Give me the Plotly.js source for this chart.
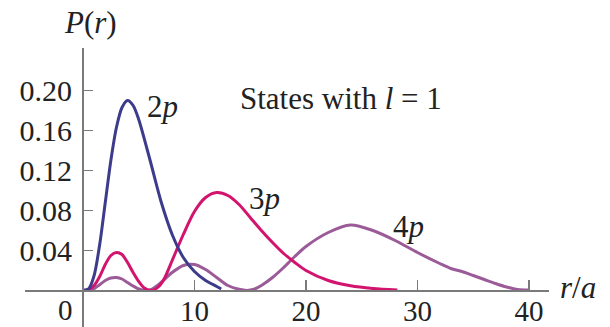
<!DOCTYPE html>
<html>
<head>
<meta charset="utf-8">
<script src="https://cdn.plot.ly/plotly-3.0.1.min.js"></script>
<style>
  html, body { margin: 0; padding: 0; background: #fff; }
  #chart { width: 610px; height: 327px; }
</style>
</head>
<body>
<div id="chart"></div>
<script>
// Radial probability distributions P(r) for the hydrogen states with l = 1
const r2p = [0, 0.5, 1, 1.5, 2, 2.5, 3, 3.5, 4, 4.5, 5, 6, 7, 8, 9, 10, 11, 12, 12.4];
const p2p = [0, 0.0015, 0.015, 0.046, 0.088, 0.130, 0.163, 0.183, 0.190, 0.185, 0.171, 0.131, 0.089, 0.056, 0.033, 0.019, 0.010, 0.004, 0.0015];

const r3p = [0, 0.5, 1, 1.5, 2, 2.5, 3, 3.5, 4, 4.5, 5, 5.5, 6.2, 6.8, 7.3, 8, 9, 10, 11, 12, 13, 14, 15, 16, 17, 18, 19, 20, 22, 24, 26, 28.2];
const p3p = [0, 0.0008, 0.005, 0.014, 0.026, 0.035, 0.038, 0.036, 0.028, 0.018, 0.009, 0.0025, 0, 0.004, 0.012, 0.030, 0.056, 0.079, 0.093, 0.098, 0.095, 0.086, 0.073, 0.060, 0.048, 0.037, 0.028, 0.020, 0.010, 0.0047, 0.002, 0.0005];

const r4p = [0, 1, 2, 2.5, 3, 3.5, 4, 4.5, 5, 5.6, 6.2, 7, 8, 9, 10, 11, 12, 13, 14, 14.7, 15.4, 16, 17, 18, 19, 20, 22, 24, 26, 28, 30, 32, 33, 34, 35, 36, 37, 38, 39, 40];
const p4p = [0, 0.002, 0.010, 0.0125, 0.013, 0.0115, 0.008, 0.0045, 0.0015, 0, 0.0015, 0.008, 0.018, 0.025, 0.026, 0.021, 0.013, 0.005, 0.0012, 0, 0.0015, 0.005, 0.013, 0.023, 0.034, 0.044, 0.058, 0.0655, 0.060, 0.050, 0.038, 0.027, 0.022, 0.019, 0.015, 0.011, 0.007, 0.0035, 0.001, 0.0005];

const xTicks = [10, 20, 30, 40];
const yTicks = [0.04, 0.08, 0.12, 0.16, 0.20];
const yTickText = ['0.04', '0.08', '0.12', '0.16', '0.20'];

const xRange = [-5.2, 41.8];
const yRange = [-0.0365, 0.2425];

const W = 610, H = 327;
const M = { l: 25, r: 61, t: 48, b: 0 };

const serif = "'Liberation Serif', 'Times New Roman', Times, serif";
const ink = '#222222';
const axisGray = '#7a7a7a';

function curve(x, y, color) {
  return {
    x: x, y: y, type: 'scatter', mode: 'lines',
    line: { color: color, width: 3, shape: 'spline', smoothing: 0.8 },
    hoverinfo: 'skip', showlegend: false, cliponaxis: false
  };
}

const traces = [
  curve(r4p, p4p, '#9a5b98'),
  curve(r3p, p3p, '#d2146e'),
  curve(r2p, p2p, '#3d3b8b')
];

// axes cross at the origin: place each free axis at the other's zero
const xPos = (0 - yRange[0]) / (yRange[1] - yRange[0]);
const yPos = (0 - xRange[0]) / (xRange[1] - xRange[0]);

// labels are placed in paper space, from pixel positions on the page
const plotW = W - M.l - M.r, plotH = H - M.t - M.b;
const label = (px, py, text, size) => ({
  x: (px - M.l) / plotW, y: (H - M.b - py) / plotH,
  xref: 'paper', yref: 'paper', xanchor: 'center', yanchor: 'middle',
  text: text, showarrow: false,
  font: { family: serif, size: size, color: ink }
});

const layout = {
  width: W, height: H,
  margin: M,
  font: { family: serif, color: ink },
  paper_bgcolor: '#ffffff', plot_bgcolor: '#ffffff',
  xaxis: {
    range: xRange, anchor: 'free', position: xPos,
    showgrid: false, zeroline: false,
    showline: true, linecolor: axisGray, linewidth: 2,
    tickvals: xTicks, ticktext: xTicks.map(String),
    ticks: 'inside', ticklen: 10, tickwidth: 1.5, tickcolor: axisGray,
    ticklabelstandoff: -5,
    tickfont: { family: serif, size: 29, color: ink }
  },
  yaxis: {
    range: yRange, anchor: 'free', position: yPos,
    showgrid: false, zeroline: false,
    showline: true, linecolor: axisGray, linewidth: 2,
    tickvals: yTicks, ticktext: yTickText,
    ticks: 'inside', ticklen: 9, tickwidth: 1.5, tickcolor: axisGray,
    ticklabelstandoff: 4,
    tickfont: { family: serif, size: 30, color: ink }
  },
  annotations: [
    label(65.5, 310, '0', 29),
    label(90, 23, '<i>P</i>(<i>r</i>)', 31),
    label(578, 287, '<i>r</i>/<i>a</i>', 31),
    label(162, 106, '2<i>p</i>', 31),
    label(264, 198, '3<i>p</i>', 31),
    label(408, 227, '4<i>p</i>', 31),
    label(341, 98, 'States with <i>l</i> = 1', 31)
  ]
};

Plotly.newPlot('chart', traces, layout, { staticPlot: true, displayModeBar: false });
</script>
</body>
</html>
